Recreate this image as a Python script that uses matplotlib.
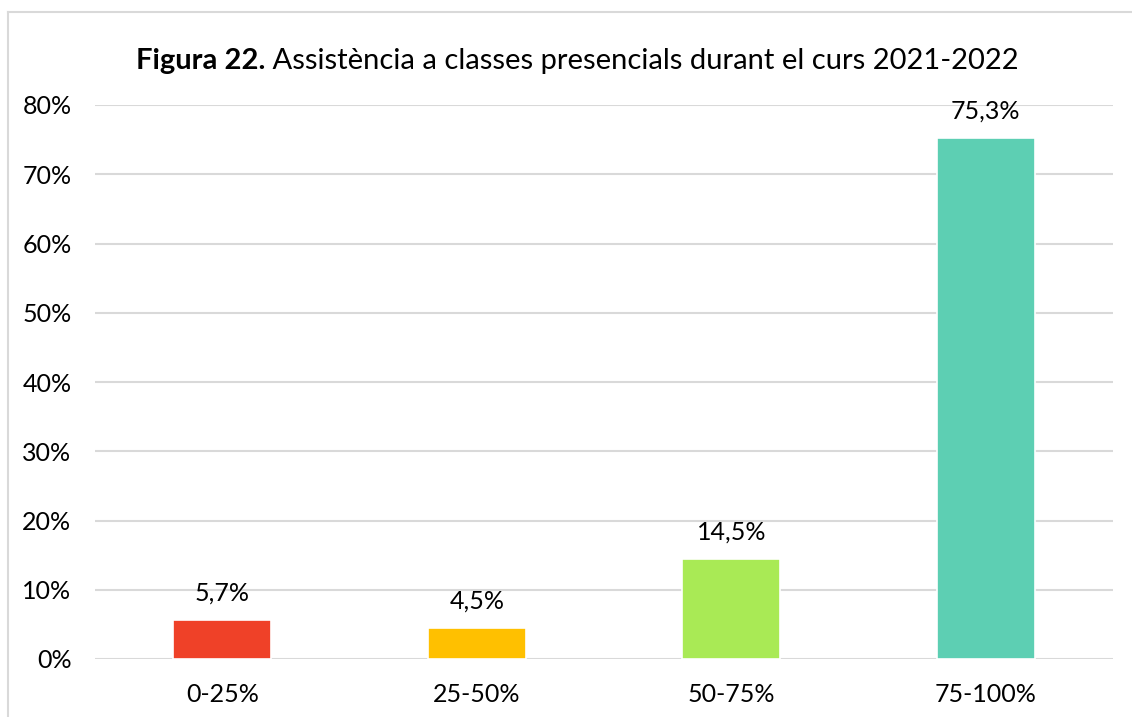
import matplotlib

matplotlib.use("Agg")
import matplotlib.pyplot as plt
from matplotlib.lines import Line2D
from matplotlib.ticker import FuncFormatter

plt.rcParams["font.family"] = ["Lato", "DejaVu Sans"]

categories = ["0-25%", "25-50%", "50-75%", "75-100%"]
values = [5.7, 4.5, 14.5, 75.3]
colors = ["#EF4128", "#FFC000", "#A9EA55", "#5DCFB3"]
title_bold = "Figura 22."
title_rest = " Assistència a classes presencials durant el curs 2021-2022"

fig = plt.figure(figsize=(11.32, 7.17), dpi=100)
ax = fig.add_axes([95 / 1132, 58 / 717, (1113 - 95) / 1132, (659 - 105) / 717])

bars = ax.bar(categories, [v / 100 for v in values], width=0.385, color=colors,
              edgecolor="white", linewidth=1.2, zorder=3)
ax.bar_label(bars, labels=[f"{v:.1f}".replace(".", ",") + "%" for v in values],
             padding=11, fontsize=18, color="#000000")

ax.set_ylim(0, 0.8)
ax.set_xlim(-0.5, 3.5)
ax.set_yticks([i / 10 for i in range(9)])
ax.yaxis.set_major_formatter(FuncFormatter(lambda y, _: f"{round(y * 100)}%"))
ax.grid(axis="y", color="#D9D9D9", linewidth=1.5, zorder=0)
for s in ax.spines.values():
    s.set_visible(False)
ax.tick_params(axis="both", length=0, labelsize=18, colors="#000000")
ax.tick_params(axis="y", pad=17)
ax.tick_params(axis="x", pad=17)

# title: bold part + regular part, centred as a whole
fig.canvas.draw()
r = fig.canvas.get_renderer()
t1 = fig.text(0, 0, title_bold, fontsize=21, fontweight="bold")
t2 = fig.text(0, 0, title_rest, fontsize=21)
w1 = t1.get_window_extent(r).width
w2 = t2.get_window_extent(r).width
x0 = 577 - (w1 + w2) / 2
t1.set_position((x0 / 1132, 1 - 69 / 717))
t2.set_position(((x0 + w1) / 1132, 1 - 69 / 717))

# partial frame border (left and top visible)
fig.add_artist(Line2D([8 / 1132, 8 / 1132], [0, 1 - 12 / 717], transform=fig.transFigure,
                      color="#D9D9D9", linewidth=1.5))
fig.add_artist(Line2D([8 / 1132, 1], [1 - 12 / 717, 1 - 12 / 717], transform=fig.transFigure,
                      color="#D9D9D9", linewidth=1.5))

fig.savefig("out.png", dpi=100)
